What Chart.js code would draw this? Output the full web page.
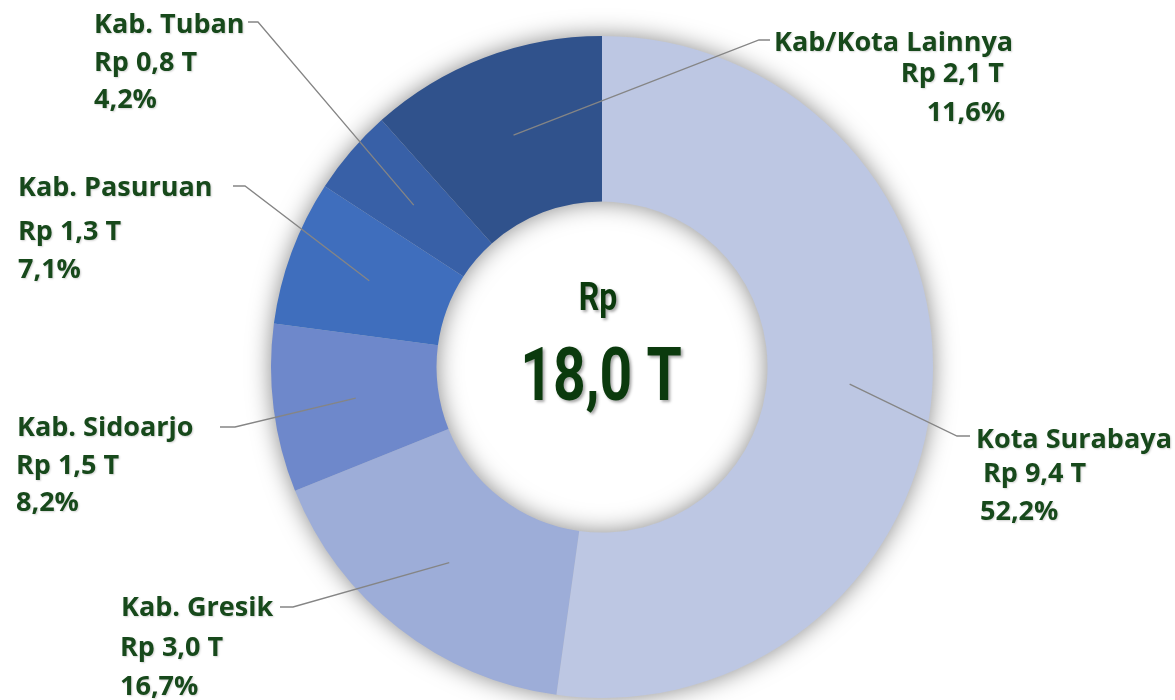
<!DOCTYPE html>
<html>
<head>
<meta charset="utf-8">
<script src="https://cdn.jsdelivr.net/npm/chart.js@4"></script>
<style>
  html, body { margin: 0; padding: 0; background: #fff; }
  #chart { display: block; }
</style>
</head>
<body>
<canvas id="chart" width="1175" height="700"></canvas>
<script>
const regions = ["Kota Surabaya", "Kab. Gresik", "Kab. Sidoarjo", "Kab. Pasuruan", "Kab. Tuban", "Kab/Kota Lainnya"];
const amounts = [9.4, 3.0, 1.5, 1.3, 0.8, 2.1];   // Rp triliun
const shares = [52.2, 16.7, 8.2, 7.1, 4.2, 11.6];  // persen
const totalAmount = 18.0;
const sliceColors = ["#bdc7e3", "#9dadd8", "#6e88cb", "#3f6ebd", "#3860a7", "#30528c"];

// where each callout sits (elbow of the leader line, end of it, then one spot per text line)
const labelSpots = [
  { elbow: [957, 436], end: [970, 436], lines: [[976, 440, "left"], [983, 474, "left"], [980, 512, "left"]] },
  { elbow: [293, 607], end: [280, 607], lines: [[121, 608, "left"], [120, 648, "left"], [120, 687, "left"]] },
  { elbow: [235, 427], end: [220, 427], lines: [[17, 428, "left"], [16, 466, "left"], [16, 503, "left"]] },
  { elbow: [245, 186], end: [233, 186], lines: [[18, 188, "left"], [18, 232, "left"], [18, 270, "left"]] },
  { elbow: [258, 22], end: [248, 22], lines: [[94, 25, "left"], [94, 63, "left"], [94, 100, "left"]] },
  { elbow: [759, 40], end: [770, 40], lines: [[774, 43, "left"], [1004, 74, "right"], [1005, 113, "right"]] }
];

const labelFont = '700 27px "Open Sans", "Noto Sans", sans-serif';
const centerFont = 'Roboto, "Open Sans", sans-serif';
const textGreen = "#17491b";

const fmt = v => v.toFixed(1).replace(".", ",");

const ringShadow = {
  id: "ringShadow",
  beforeDatasetsDraw(chart) {
    const arc = chart.getDatasetMeta(0).data[0];
    if (!arc) return;
    const { x, y, innerRadius, outerRadius } = arc.getProps(["x", "y", "innerRadius", "outerRadius"], true);
    const ctx = chart.ctx;
    ctx.save();
    ctx.shadowColor = "rgba(0, 0, 0, 0.5)";
    ctx.shadowBlur = 24;
    ctx.fillStyle = "#c8c8c8";
    ctx.beginPath();
    ctx.arc(x, y, outerRadius - 1, 0, Math.PI * 2);
    ctx.arc(x, y, innerRadius + 1, 0, Math.PI * 2, true);
    ctx.fill();
    ctx.restore();
  }
};

// condensed-looking text: squeeze a normal bold face horizontally
function squeezedText(ctx, text, x, y, size, squeeze) {
  ctx.save();
  ctx.font = "700 " + size + "px " + centerFont;
  ctx.translate(x, y);
  ctx.scale(squeeze, 1);
  ctx.fillText(text, 0, 0);
  ctx.restore();
}

const calloutLabels = {
  id: "calloutLabels",
  afterDatasetsDraw(chart) {
    const ctx = chart.ctx;
    const arcs = chart.getDatasetMeta(0).data;
    ctx.save();

    arcs.forEach((arc, i) => {
      const p = arc.getCenterPoint(true);
      const spot = labelSpots[i];
      ctx.strokeStyle = "#858585";
      ctx.lineWidth = 1.3;
      ctx.beginPath();
      ctx.moveTo(p.x, p.y);
      ctx.lineTo(spot.elbow[0], spot.elbow[1]);
      ctx.lineTo(spot.end[0], spot.end[1]);
      ctx.stroke();

      const texts = [regions[i], "Rp " + fmt(amounts[i]) + " T", fmt(shares[i]) + "%"];
      ctx.font = labelFont;
      ctx.fillStyle = textGreen;
      ctx.textBaseline = "middle";
      ctx.shadowColor = "rgba(0, 0, 0, 0.18)";
      ctx.shadowBlur = 2;
      ctx.shadowOffsetX = 1;
      ctx.shadowOffsetY = 1;
      spot.lines.forEach(([tx, ty, align], k) => {
        ctx.textAlign = align;
        ctx.fillText(texts[k], tx, ty);
      });
      ctx.shadowColor = "transparent";
    });

    // total in the hole
    const { x, y } = arcs[0].getProps(["x", "y"], true);
    ctx.fillStyle = "#0b3a0d";
    ctx.textAlign = "center";
    ctx.textBaseline = "alphabetic";
    ctx.shadowColor = "rgba(0, 0, 0, 0.35)";
    ctx.shadowBlur = 3;
    ctx.shadowOffsetX = 2;
    ctx.shadowOffsetY = 2;
    squeezedText(ctx, "Rp", x - 4, y - 57, 39, 0.82);
    squeezedText(ctx, fmt(totalAmount) + " T", x - 1, y + 33, 74, 0.77);
    ctx.restore();
  }
};

new Chart(document.getElementById("chart"), {
  type: "doughnut",
  data: {
    labels: regions,
    datasets: [{
      data: shares,
      backgroundColor: sliceColors,
      borderWidth: 0,
      hoverOffset: 0
    }]
  },
  options: {
    responsive: false,
    animation: false,
    cutout: "50%",
    layout: { padding: { left: 100, right: 71, top: 36, bottom: 2 } },
    plugins: {
      legend: { display: false },
      tooltip: { enabled: false }
    },
    events: []
  },
  plugins: [ringShadow, calloutLabels]
});
</script>
</body>
</html>
